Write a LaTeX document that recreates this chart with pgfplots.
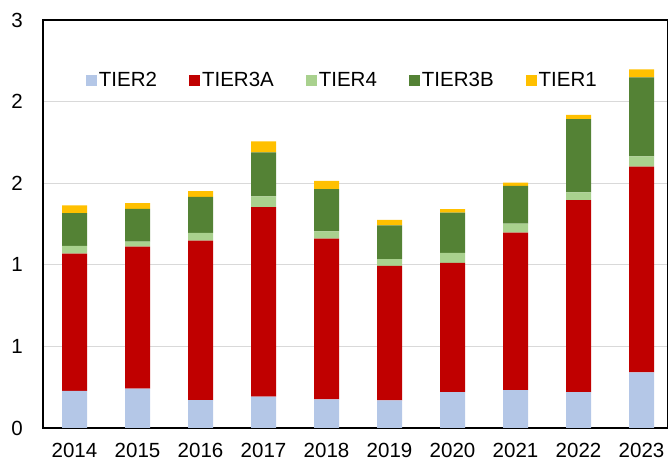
\documentclass[border=0pt]{standalone}
\usepackage{fontspec}
\setmainfont{Liberation Sans}
\usepackage{pgfplots}
\usepackage{pgfplotstable}
\pgfplotsset{compat=1.18}
\definecolor{cTtwo}{HTML}{B4C7E7}
\definecolor{cTthreeA}{HTML}{C00000}
\definecolor{cTfour}{HTML}{A9D18E}
\definecolor{cTthreeB}{HTML}{548235}
\definecolor{cTone}{HTML}{FFC000}
\definecolor{gridc}{HTML}{D9D9D9}
\pgfplotstableread{
x T2 T3A T4 T3B T1
0 0.227 0.842 0.047 0.201 0.047
1 0.242 0.870 0.030 0.201 0.035
2 0.171 0.977 0.047 0.221 0.035
3 0.193 1.161 0.065 0.270 0.067
4 0.175 0.985 0.045 0.258 0.051
5 0.169 0.825 0.041 0.207 0.034
6 0.220 0.792 0.061 0.246 0.022
7 0.232 0.965 0.055 0.232 0.020
8 0.220 1.176 0.047 0.449 0.027
9 0.341 1.261 0.063 0.483 0.049
}\datatable
\begin{document}
\begin{tikzpicture}
\begin{axis}[name=ax, scale only axis, width=625pt, height=408pt,
  ybar stacked, bar width=25pt,
  xmin=-0.5, xmax=9.42, ymin=0, ymax=2.5,
  xtick={0,1,2,3,4,5,6,7,8,9},
  xticklabels={2014,2015,2016,2017,2018,2019,2020,2021,2022,2023},
  ytick={0,0.5,1,1.5,2,2.5}, yticklabels={0,1,1,2,2,3},
  major tick length=0pt,
  ymajorgrids, grid style={color=gridc, line width=1.2pt},
  axis line style={line width=1.6pt, black},
  tick label style={font=\fontsize{20.5}{24}\selectfont, inner sep=0pt},
  yticklabel style={xshift=-20pt},
  xticklabel style={yshift=-15pt},
  legend style={at={(0.479,0.852)}, anchor=center, draw=none, fill=none,
    font=\fontsize{20.5}{24}\selectfont,
    /tikz/every even column/.append style={column sep=30pt}},
  legend columns=-1,
  legend image code/.code={\fill[#1] (0pt,-5.5pt) rectangle (11pt,5.5pt);},
]
\addplot[fill=cTtwo, draw=none] table[x=x, y=T2] {\datatable};
\addplot[fill=cTthreeA, draw=none] table[x=x, y=T3A] {\datatable};
\addplot[fill=cTfour, draw=none] table[x=x, y=T4] {\datatable};
\addplot[fill=cTthreeB, draw=none] table[x=x, y=T3B] {\datatable};
\addplot[fill=cTone, draw=none] table[x=x, y=T1] {\datatable};
\legend{TIER2,TIER3A,TIER4,TIER3B,TIER1}
\end{axis}
\pgfresetboundingbox
\path ([xshift=-43pt,yshift=-34pt]ax.south west) rectangle ([yshift=20pt]ax.north east);
\end{tikzpicture}
\end{document}
